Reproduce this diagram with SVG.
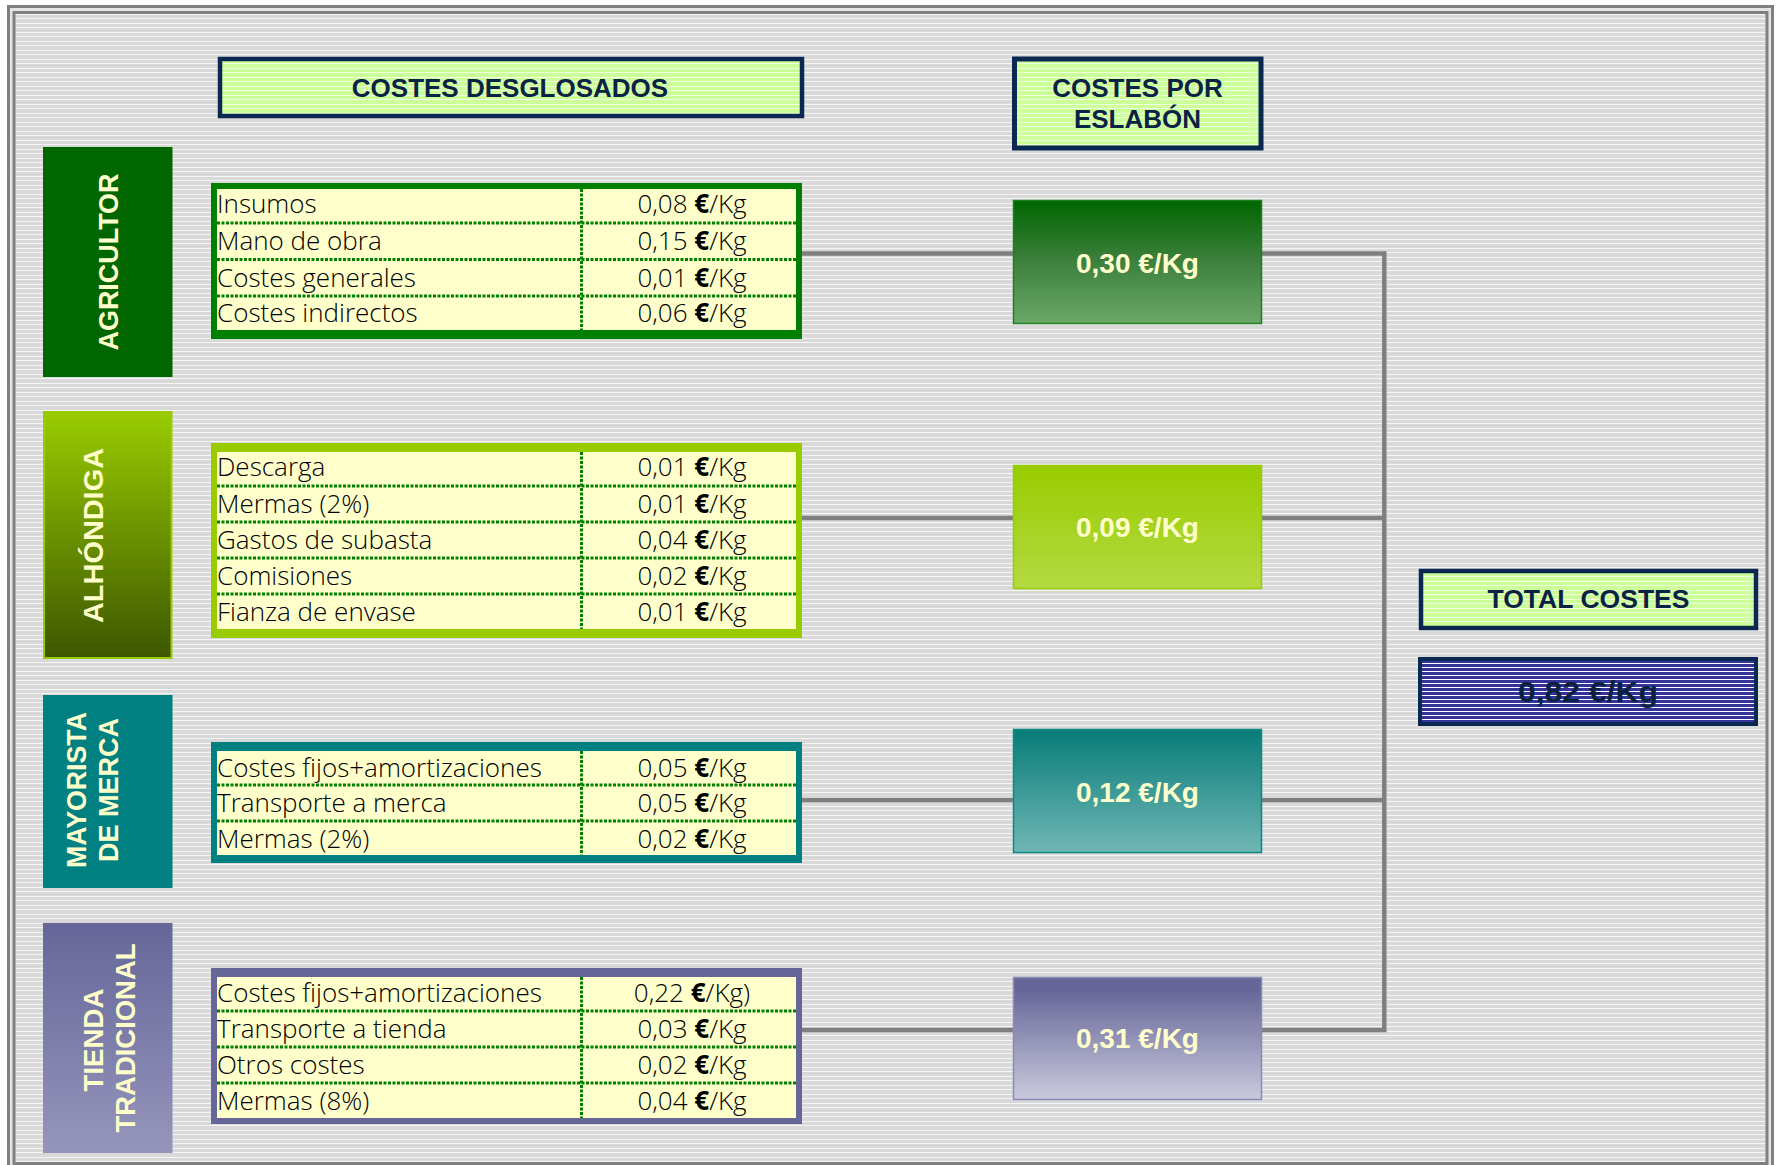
<svg xmlns="http://www.w3.org/2000/svg" width="1776" height="1165" viewBox="0 0 1776 1165">
<defs>
<pattern id="bg" width="20" height="9" patternUnits="userSpaceOnUse"><rect width="20" height="9" fill="#d9d9d9"/><rect y="0" width="20" height="1" fill="#f5f5f5"/><rect y="5" width="20" height="1" fill="#f5f5f5"/></pattern>
<pattern id="hdr" width="20" height="9" patternUnits="userSpaceOnUse"><rect width="20" height="9" fill="#ccff99"/><rect y="0" width="20" height="1" fill="#eeffdd"/><rect y="5" width="20" height="1" fill="#eeffdd"/></pattern>
<pattern id="blue" width="20" height="4" patternUnits="userSpaceOnUse"><rect width="20" height="4" fill="#333399"/><rect y="3" width="20" height="1" fill="#ffffff"/></pattern>
<linearGradient id="gAlh" x1="0" y1="0" x2="0" y2="1"><stop offset="0" stop-color="#99cc00"/><stop offset="1" stop-color="#3d5600"/></linearGradient>
<linearGradient id="gTie" x1="0" y1="0" x2="0" y2="1"><stop offset="0" stop-color="#666699"/><stop offset="1" stop-color="#9595bc"/></linearGradient>
<linearGradient id="gC1" x1="0" y1="0" x2="0" y2="1"><stop offset="0" stop-color="#006600"/><stop offset="0.5" stop-color="#3e803e"/><stop offset="1" stop-color="#6aa86a"/></linearGradient>
<linearGradient id="gC2" x1="0" y1="0" x2="0" y2="1"><stop offset="0" stop-color="#99cc00"/><stop offset="1" stop-color="#b3da42"/></linearGradient>
<linearGradient id="gC3" x1="0" y1="0" x2="0" y2="1"><stop offset="0" stop-color="#087c78"/><stop offset="1" stop-color="#70b7b5"/></linearGradient>
<linearGradient id="gC4" x1="0" y1="0" x2="0" y2="1"><stop offset="0.1" stop-color="#666699"/><stop offset="1" stop-color="#cacadd"/></linearGradient>
</defs>
<style>
.row{font-family:"Open Sans","Liberation Sans",sans-serif;font-size:26px;font-weight:300;fill:#000}
.val{text-anchor:middle}
.eu{font-weight:bold}
.hdr{font-family:"Liberation Sans",Arial,sans-serif;font-weight:bold;font-size:26px;fill:#0a2344;text-anchor:middle}
.sec{font-family:"Liberation Sans",Arial,sans-serif;font-weight:bold;font-size:28px;fill:#ffffcc;text-anchor:middle}
.cost{font-family:"Liberation Sans",Arial,sans-serif;font-weight:bold;font-size:28px;fill:#ffffcc;text-anchor:middle}
.dot{stroke:#008000;stroke-width:3;stroke-dasharray:3 1.5;fill:none}
.conn{stroke:#7f7f7f;stroke-width:4.5;fill:none}
.cell{fill:#ffffcc}
</style>
<rect width="1776" height="1165" fill="#ffffff"/>
<rect x="8.5" y="6.5" width="1764" height="1165" fill="#e4e4e4" stroke="#808080" stroke-width="3"/>
<rect x="14" y="12.5" width="1753" height="1151" fill="url(#bg)" stroke="#808080" stroke-width="3"/>

<g id="connectors">
<path class="conn" d="M802 253.5H1013M802 518H1013M802 800H1013M802 1030H1013"/>
<path class="conn" d="M1262 253.5H1384.3V1030H1262M1262 518H1384.3M1262 800H1384.3"/>
</g>

<g id="header-desglosados">
<rect x="220" y="59" width="582" height="57" fill="url(#hdr)" stroke="#0a2850" stroke-width="4.5"/>
<text class="hdr" x="510" y="97">COSTES DESGLOSADOS</text>
</g>
<g id="header-eslabon">
<rect x="1014.5" y="59" width="246.5" height="89" fill="url(#hdr)" stroke="#0a2850" stroke-width="5"/>
<text class="hdr" x="1137.5" y="97">COSTES POR</text>
<text class="hdr" x="1137.5" y="128">ESLABÓN</text>
</g>

<g id="sec-agricultor">
<rect x="43" y="147" width="129.5" height="230" fill="#006600"/>
<text class="sec" transform="translate(117.5,262) rotate(-90)" textLength="177" lengthAdjust="spacingAndGlyphs">AGRICULTOR</text>
</g>
<g id="sec-alhondiga">
<rect x="44" y="412" width="127.5" height="246" fill="url(#gAlh)" stroke="#99cc00" stroke-width="2"/>
<text class="sec" transform="translate(103,535.5) rotate(-90)" textLength="175" lengthAdjust="spacingAndGlyphs">ALHÓNDIGA</text>
</g>
<g id="sec-mayorista">
<rect x="43" y="695" width="129.5" height="193" fill="#008080"/>
<text class="sec" transform="translate(86,790) rotate(-90)" textLength="156" lengthAdjust="spacingAndGlyphs">MAYORISTA</text>
<text class="sec" transform="translate(118,790) rotate(-90)" textLength="144" lengthAdjust="spacingAndGlyphs">DE MERCA</text>
</g>
<g id="sec-tienda">
<rect x="43" y="923" width="129.5" height="230" fill="url(#gTie)"/>
<text class="sec" transform="translate(103,1040) rotate(-90)" textLength="103" lengthAdjust="spacingAndGlyphs">TIENDA</text>
<text class="sec" transform="translate(135,1038) rotate(-90)" textLength="189" lengthAdjust="spacingAndGlyphs">TRADICIONAL</text>
</g>

<g id="tbl-agricultor">
<rect x="211" y="183" width="591" height="156" fill="#008000"/>
<rect class="cell" x="217" y="189" width="579" height="141"/>
<path class="dot" d="M217 223H796M217 259.5H796M217 296H796M581.5 189V330"/>
<text class="row" x="217" y="213">Insumos</text>
<text class="row" x="217" y="250">Mano de obra</text>
<text class="row" x="217" y="287">Costes generales</text>
<text class="row" x="217" y="322">Costes indirectos</text>
<text class="row val" x="692" y="213">0,08 <tspan class="eu">€</tspan>/Kg</text>
<text class="row val" x="692" y="250">0,15 <tspan class="eu">€</tspan>/Kg</text>
<text class="row val" x="692" y="287">0,01 <tspan class="eu">€</tspan>/Kg</text>
<text class="row val" x="692" y="322">0,06 <tspan class="eu">€</tspan>/Kg</text>
</g>

<g id="tbl-alhondiga">
<rect x="211" y="443" width="591" height="195" fill="#99cc00"/>
<rect class="cell" x="217" y="452" width="579" height="177"/>
<path class="dot" d="M217 486H796M217 522H796M217 558H796M217 594H796M581.5 452V629"/>
<text class="row" x="217" y="476">Descarga</text>
<text class="row" x="217" y="513">Mermas (2%)</text>
<text class="row" x="217" y="549">Gastos de subasta</text>
<text class="row" x="217" y="585">Comisiones</text>
<text class="row" x="217" y="621">Fianza de envase</text>
<text class="row val" x="692" y="476">0,01 <tspan class="eu">€</tspan>/Kg</text>
<text class="row val" x="692" y="513">0,01 <tspan class="eu">€</tspan>/Kg</text>
<text class="row val" x="692" y="549">0,04 <tspan class="eu">€</tspan>/Kg</text>
<text class="row val" x="692" y="585">0,02 <tspan class="eu">€</tspan>/Kg</text>
<text class="row val" x="692" y="621">0,01 <tspan class="eu">€</tspan>/Kg</text>
</g>

<g id="tbl-mayorista">
<rect x="211" y="742" width="591" height="121" fill="#008080"/>
<rect class="cell" x="217" y="751" width="579" height="104"/>
<path class="dot" d="M217 785H796M217 821H796M581.5 751V855"/>
<text class="row" x="217" y="777">Costes fijos+amortizaciones</text>
<text class="row" x="217" y="812">Transporte a merca</text>
<text class="row" x="217" y="848">Mermas (2%)</text>
<text class="row val" x="692" y="777">0,05 <tspan class="eu">€</tspan>/Kg</text>
<text class="row val" x="692" y="812">0,05 <tspan class="eu">€</tspan>/Kg</text>
<text class="row val" x="692" y="848">0,02 <tspan class="eu">€</tspan>/Kg</text>
</g>

<g id="tbl-tienda">
<rect x="211" y="968" width="591" height="156" fill="#666699"/>
<rect class="cell" x="217" y="977" width="579" height="141"/>
<path class="dot" d="M217 1011H796M217 1047H796M217 1083H796M581.5 977V1118"/>
<text class="row" x="217" y="1002">Costes fijos+amortizaciones</text>
<text class="row" x="217" y="1038">Transporte a tienda</text>
<text class="row" x="217" y="1074">Otros costes</text>
<text class="row" x="217" y="1110">Mermas (8%)</text>
<text class="row val" x="692" y="1002">0,22 <tspan class="eu">€</tspan>/Kg)</text>
<text class="row val" x="692" y="1038">0,03 <tspan class="eu">€</tspan>/Kg</text>
<text class="row val" x="692" y="1074">0,02 <tspan class="eu">€</tspan>/Kg</text>
<text class="row val" x="692" y="1110">0,04 <tspan class="eu">€</tspan>/Kg</text>
</g>

<g id="cost-agricultor">
<rect x="1013.5" y="200.5" width="248" height="123" fill="url(#gC1)" stroke="#1f7f1f" stroke-width="1.5"/>
<text class="cost" x="1137.5" y="273">0,30 €/Kg</text>
</g>
<g id="cost-alhondiga">
<rect x="1013.5" y="465.5" width="248" height="123" fill="url(#gC2)" stroke="#99cc00" stroke-width="1.5"/>
<text class="cost" x="1137.5" y="537">0,09 €/Kg</text>
</g>
<g id="cost-mayorista">
<rect x="1013.5" y="729.5" width="248" height="123" fill="url(#gC3)" stroke="#0a8a84" stroke-width="1.5"/>
<text class="cost" x="1137.5" y="802">0,12 €/Kg</text>
</g>
<g id="cost-tienda">
<rect x="1013.5" y="977.5" width="248" height="122" fill="url(#gC4)" stroke="#8a8ab8" stroke-width="1.5"/>
<text class="cost" x="1137.5" y="1048">0,31 €/Kg</text>
</g>

<g id="total-label">
<rect x="1421" y="571" width="335" height="57" fill="url(#hdr)" stroke="#0a2850" stroke-width="4.5"/>
<text class="hdr" x="1588.5" y="608" textLength="202" lengthAdjust="spacingAndGlyphs">TOTAL COSTES</text>
</g>
<g id="total-value">
<rect x="1420" y="659" width="336" height="65" fill="url(#blue)" stroke="#0a2850" stroke-width="4"/>
<text class="hdr" x="1588" y="702" style="font-size:30px;fill:#0c2040" textLength="140" lengthAdjust="spacingAndGlyphs">0,82 €/Kg</text>
</g>
</svg>
